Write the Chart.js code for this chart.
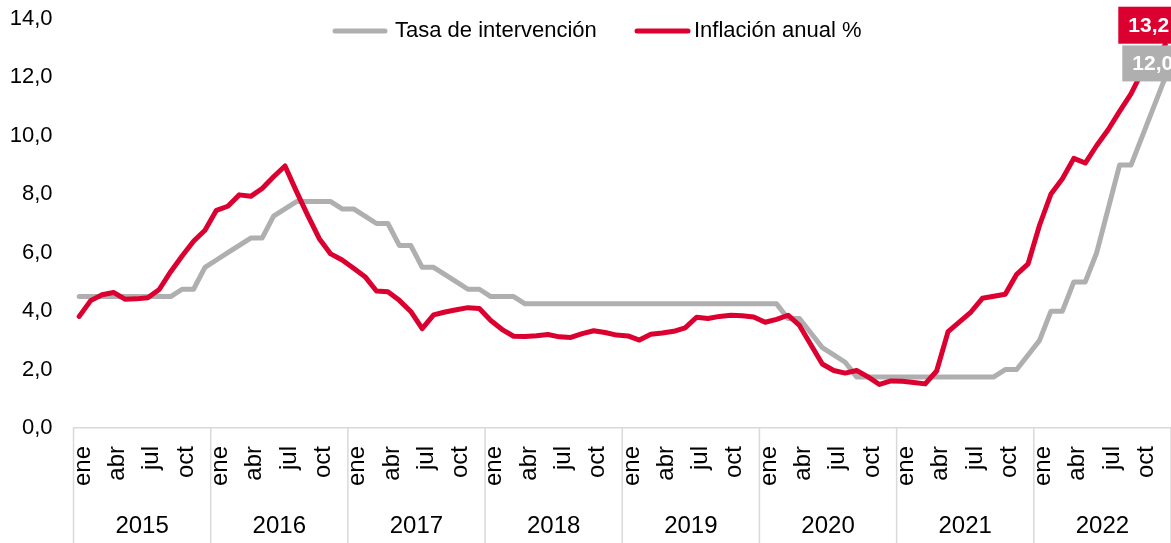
<!DOCTYPE html>
<html>
<head>
<meta charset="utf-8">
<script src="https://cdn.jsdelivr.net/npm/chart.js@4.4.1/dist/chart.umd.min.js"></script>
<style>
  html, body { margin: 0; padding: 0; background: #fff; }
  #wrap { width: 1171px; height: 543px; position: relative; }
</style>
</head>
<body>
<div id="wrap"><canvas id="chart"></canvas></div>
<script>
const months = ['ene','feb','mar','abr','may','jun','jul','ago','sep','oct','nov','dic'];
const years = ['2015','2016','2017','2018','2019','2020','2021','2022'];

// Tasa de intervención, mensual ene-2015 .. dic-2022
const tasa = [
  4.5, 4.5, 4.5, 4.5, 4.5, 4.5, 4.5, 4.5, 4.5, 4.75, 4.75, 5.5,
  5.75, 6.0, 6.25, 6.5, 6.5, 7.25, 7.5, 7.75, 7.75, 7.75, 7.75, 7.5,
  7.5, 7.25, 7.0, 7.0, 6.25, 6.25, 5.5, 5.5, 5.25, 5.0, 4.75, 4.75,
  4.5, 4.5, 4.5, 4.25, 4.25, 4.25, 4.25, 4.25, 4.25, 4.25, 4.25, 4.25,
  4.25, 4.25, 4.25, 4.25, 4.25, 4.25, 4.25, 4.25, 4.25, 4.25, 4.25, 4.25,
  4.25, 4.25, 3.75, 3.75, 3.25, 2.75, 2.5, 2.25, 1.75, 1.75, 1.75, 1.75,
  1.75, 1.75, 1.75, 1.75, 1.75, 1.75, 1.75, 1.75, 1.75, 2.0, 2.0, 2.5,
  3.0, 4.0, 4.0, 5.0, 5.0, 6.0, 7.5, 9.0, 9.0, 10.0, 11.0, 12.0
];

// Inflación anual %
const inflacion = [
  3.82, 4.36, 4.56, 4.64, 4.41, 4.42, 4.46, 4.74, 5.35, 5.89, 6.39, 6.77,
  7.45, 7.59, 7.98, 7.93, 8.20, 8.60, 8.97, 8.10, 7.27, 6.48, 5.96, 5.75,
  5.47, 5.18, 4.69, 4.66, 4.37, 3.99, 3.40, 3.87, 3.97, 4.05, 4.12, 4.09,
  3.68, 3.37, 3.14, 3.13, 3.16, 3.20, 3.12, 3.10, 3.23, 3.33, 3.27, 3.18,
  3.15, 3.01, 3.21, 3.25, 3.31, 3.43, 3.79, 3.75, 3.82, 3.86, 3.84, 3.80,
  3.62, 3.72, 3.86, 3.51, 2.85, 2.19, 1.97, 1.88, 1.97, 1.75, 1.49, 1.61,
  1.60, 1.56, 1.51, 1.95, 3.30, 3.63, 3.97, 4.44, 4.51, 4.58, 5.26, 5.62,
  6.94, 8.01, 8.53, 9.23, 9.07, 9.67, 10.21, 10.84, 11.44, 12.22, 12.53, 13.12
];

const endLabels = ['12,0', '13,2'];
const seriesNames = ['Tasa de intervención', 'Inflación anual %'];

const gray = '#afafaf';
const red = '#dc0030';
const axisLine = '#d9d9d9';
const fam = '"Liberation Sans", Arial, sans-serif';

const labels = [];
years.forEach(y => months.forEach(m => labels.push(m)));

const extras = {
  id: 'extras',
  afterDraw(chart) {
    const { ctx, chartArea } = chart;
    const x = chart.scales.x;
    const half = (x.getPixelForValue(1) - x.getPixelForValue(0)) / 2;
    ctx.save();

    // separadores de año
    ctx.strokeStyle = axisLine;
    ctx.lineWidth = 1.5;
    for (let k = 0; k <= years.length; k++) {
      const px = x.getPixelForValue(k * 12) - half;
      ctx.beginPath();
      ctx.moveTo(px, chartArea.bottom);
      ctx.lineTo(px, chart.height);
      ctx.stroke();
    }

    // etiquetas de año
    ctx.fillStyle = '#000';
    ctx.font = '24px ' + fam;
    ctx.textAlign = 'center';
    ctx.textBaseline = 'middle';
    years.forEach((yr, k) => {
      const cx = (x.getPixelForValue(k * 12) + x.getPixelForValue(k * 12 + 11)) / 2;
      ctx.fillText(yr, cx, chartArea.bottom + 98);
    });

    // leyenda
    const items = [
      { x0: 335, x1: 385, tx: 395, color: gray, text: seriesNames[0] },
      { x0: 637, x1: 688, tx: 694, color: red, text: seriesNames[1] }
    ];
    ctx.font = '22px ' + fam;
    ctx.lineCap = 'round';
    ctx.textAlign = 'left';
    items.forEach(it => {
      ctx.strokeStyle = it.color;
      ctx.lineWidth = 5;
      ctx.beginPath();
      ctx.moveTo(it.x0, 31);
      ctx.lineTo(it.x1, 31);
      ctx.stroke();
      ctx.fillStyle = '#000';
      ctx.fillText(it.text, it.tx, 31);
    });

    // etiquetas finales
    ctx.font = 'bold 21px ' + fam;
    ctx.textBaseline = 'middle';
    const boxes = [
      { ds: 0, color: gray, dx: -43, top: -32, h: 36, tdx: 10 },
      { ds: 1, color: red, dx: -47, top: -38, h: 37, tdx: 10 }
    ];
    boxes.forEach(b => {
      const meta = chart.getDatasetMeta(b.ds);
      const pt = meta.data[meta.data.length - 1];
      const bx = pt.x + b.dx;
      const by = pt.y + b.top;
      ctx.fillStyle = b.color;
      ctx.fillRect(bx, by, 80, b.h);
      ctx.fillStyle = '#fff';
      ctx.fillText(endLabels[b.ds], bx + b.tdx, by + b.h / 2 + 1);
    });
    ctx.restore();
  }
};

new Chart(document.getElementById('chart'), {
  type: 'line',
  data: {
    labels,
    datasets: [
      { label: seriesNames[0], data: tasa, borderColor: gray, borderWidth: 5, pointRadius: 0, tension: 0, borderJoinStyle: 'round', borderCapStyle: 'round', order: 2 },
      { label: seriesNames[1], data: inflacion, borderColor: red, borderWidth: 5, pointRadius: 0, tension: 0, borderJoinStyle: 'round', borderCapStyle: 'round', order: 1 }
    ]
  },
  options: {
    responsive: true,
    maintainAspectRatio: false,
    animation: false,
    devicePixelRatio: 1,
    layout: { padding: { top: 19, right: 0, bottom: 0, left: 0 } },
    plugins: { legend: { display: false }, tooltip: { enabled: false } },
    scales: {
      x: {
        offset: true,
        grid: { display: false, drawTicks: false },
        border: { display: true, color: axisLine, width: 1.5 },
        ticks: {
          autoSkip: false, minRotation: 90, maxRotation: 90, padding: 18, labelOffset: 4,
          color: '#000', font: { family: fam, size: 24 },
          callback(v, i) { return i % 3 === 0 ? this.getLabelForValue(v) : ''; }
        },
        afterFit(s) { s.height = 115; s.paddingLeft = 0; s.paddingRight = 0; }
      },
      y: {
        min: 0, max: 14,
        grid: { display: false, drawTicks: false },
        border: { display: false },
        ticks: {
          stepSize: 2, padding: 21, color: '#000', font: { family: fam, size: 22 },
          callback: v => v.toFixed(1).replace('.', ',')
        },
        afterFit(s) { s.width = 73.5; s.paddingTop = 0; s.paddingBottom = 0; }
      }
    }
  },
  plugins: [extras]
});
</script>
</body>
</html>
